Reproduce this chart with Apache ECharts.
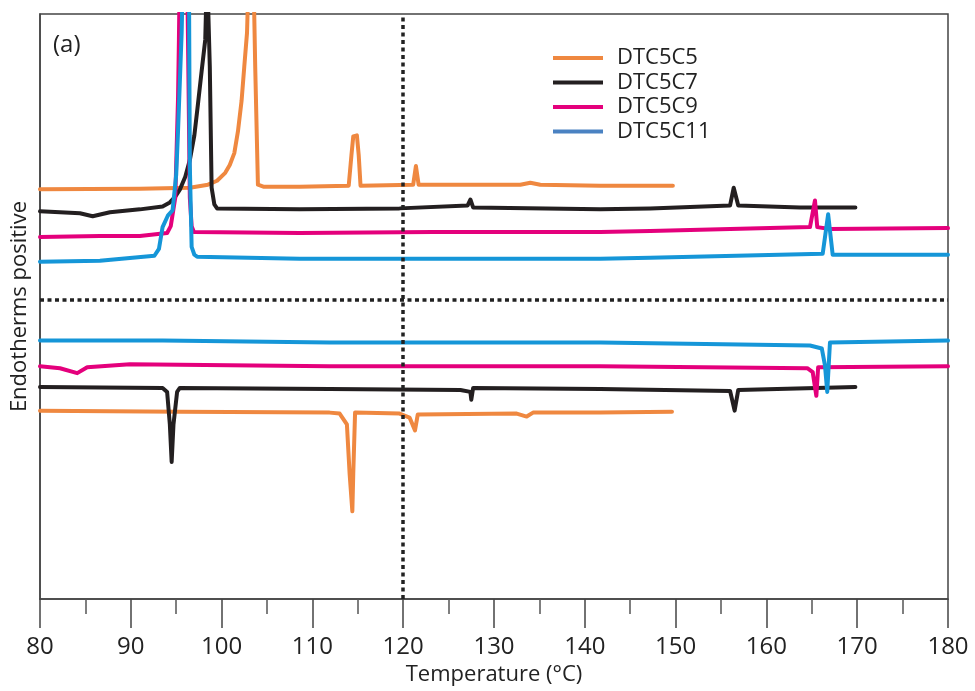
<!DOCTYPE html>
<html>
<head>
<meta charset="utf-8">
<script src="https://cdn.jsdelivr.net/npm/echarts@6/dist/echarts.min.js"></script>
<style>
html,body{margin:0;padding:0;background:#fff;}
#chart{width:975px;height:691px;}
</style>
</head>
<body>
<div id="chart"></div>
<script>
// Temperature (°C) vs heat flow (arbitrary units, endotherms positive)
var seriesNames = ['DTC5C5', 'DTC5C7', 'DTC5C9', 'DTC5C11'];
var xTicks = [80, 90, 100, 110, 120, 130, 140, 150, 160, 170, 180];

// heating traces (upper half)
var heat5 = [[80,415.5],[91.0,416],[96.5,417],[98.5,420],[99.5,424],[100.4,432],[100.9,440],[101.4,452],[101.8,474],[102.2,505],[102.5,540],[102.8,574],[103.0,640],[103.5,640],[103.7,540],[104.0,420],[104.6,418],[108.6,418],[114.0,419],[114.3,450],[114.5,469],[114.9,470],[115.1,450],[115.3,419],[121.1,420],[121.4,439],[121.7,420],[132.9,420],[134.0,422],[135.1,420],[141.7,419],[149.7,419]];
var heat7 = [[80,393],[82.2,392],[84.4,391],[85.8,388],[87.7,392],[91.0,395],[93.5,398],[94.3,402],[94.9,408],[95.4,415],[96.0,428],[96.5,445],[97.0,470],[97.4,502],[97.8,535],[98.2,567],[98.4,640],[98.6,640],[98.7,540],[98.9,417],[99.2,400],[99.5,396],[108.6,395],[119.6,396],[127.1,399],[127.4,405],[127.7,397],[141.7,395],[147.2,396],[156.0,399],[156.4,417],[156.9,399],[163.7,397],[169.8,397]];
var heat9 = [[80,367],[86.6,368],[91.0,368],[94.0,371],[94.4,378],[94.9,407],[95.2,507],[95.3,567],[95.4,640],[96.2,640],[96.3,567],[96.5,407],[96.7,378],[96.95,372],[108.6,371],[123.3,372],[141.7,372],[147.2,373],[164.8,377],[165.35,404],[165.6,377],[167.0,375],[180,376]];
var heat11 = [[80,342],[86.6,343],[92.6,348],[93.1,355],[93.5,377],[94.1,389],[94.6,394],[95.0,430],[95.2,474],[95.6,574],[95.75,640],[96.4,640],[96.5,440],[96.7,357],[97.0,349],[97.3,347],[108.6,345],[141.7,345],[147.2,346],[166.2,350],[166.8,390],[167.3,349],[180,349]];

// cooling traces (lower half)
var cool5 = [[80,191],[95.4,190],[111.9,189],[113.0,188],[113.8,177],[114.1,127],[114.4,89],[114.5,127],[114.7,189],[119.6,188],[120.7,184],[121.3,171],[121.6,187],[132.5,188],[133.6,185],[134.3,189],[141.7,189],[149.6,190]];
var cool7 = [[80,215],[93.5,214],[94.0,210],[94.3,177],[94.5,139],[94.7,177],[95.1,210],[95.4,214],[111.9,213],[126.3,212],[127.4,210],[127.5,202],[127.7,214],[141.7,213],[156.0,211],[156.5,191],[156.9,212],[169.8,215]];
var cool9 = [[80,236],[82.2,234],[84.1,229],[85.2,235],[89.9,238],[111.9,236],[141.7,236],[164.5,234],[165.1,230],[165.5,206],[165.7,235],[180,236]];
var cool11 = [[80,262],[93.5,262],[111.9,260],[141.7,260],[164.8,257],[166.1,254],[166.45,237],[166.7,210],[167.0,260],[180,262]];

var dividerY = 303;   // horizontal dotted separator
var dividerT = 120;   // vertical dotted marker

var colors = ['#EF8840', '#231F20', '#E4007C', '#1596D8'];
var legendColors = ['#EF8840', '#231F20', '#E4007C', '#4A82C2'];
var FONT = '"Open Sans", "Liberation Sans", sans-serif';

function line(name, data, color) {
  return {
    name: name, type: 'line', data: data, showSymbol: false, symbol: 'none',
    clip: true, animation: false,
    lineStyle: { color: color, width: 4, join: 'round', cap: 'round' },
    itemStyle: { color: color }
  };
}

var series = [
  line(seriesNames[0], heat5, colors[0]),
  line(seriesNames[1], heat7, colors[1]),
  line(seriesNames[2], heat9, colors[2]),
  line(seriesNames[3], heat11, colors[3]),
  line(seriesNames[0], cool5, colors[0]),
  line(seriesNames[1], cool7, colors[1]),
  line(seriesNames[2], cool9, colors[2]),
  line(seriesNames[3], cool11, colors[3])
];
series.push({
  type: 'line', data: [], silent: true, animation: false,
  markLine: {
    silent: true, symbol: 'none', animation: false,
    label: { show: false },
    lineStyle: { color: '#222', width: 3.5, type: [4, 3.5] },
    data: [{ xAxis: dividerT }, { yAxis: dividerY }]
  }
});

var chart = echarts.init(document.getElementById('chart'), null, { renderer: 'canvas' });
chart.setOption({
  backgroundColor: '#fff',
  animation: false,
  title: { text: '(a)', left: 48, top: 28, textStyle: { fontFamily: FONT, fontSize: 24, fontWeight: 'normal', color: '#222' } },
  legend: {
    orient: 'vertical', left: 548, top: 41,
    itemWidth: 50, itemHeight: 4, itemGap: 0.5, icon: 'rect',
    textStyle: { fontFamily: FONT, fontSize: 22, color: '#222', lineHeight: 24, padding: [0, 0, 0, 9] },
    data: seriesNames.map(function (n, i) { return { name: n, icon: 'rect', itemStyle: { color: legendColors[i] } }; })
  },
  grid: { left: 40, right: 27, top: 14, bottom: 84, show: true, borderColor: '#444', borderWidth: 1.5, backgroundColor: 'transparent' },
  xAxis: {
    type: 'value', min: xTicks[0], max: xTicks[xTicks.length - 1], interval: 10,
    name: 'Temperature (°C)', nameLocation: 'middle', nameGap: 59,
    nameTextStyle: { fontFamily: FONT, fontSize: 22, color: '#222' },
    axisLine: { show: true, lineStyle: { color: '#444', width: 1.5 } },
    axisTick: { show: true, inside: false, length: 29, lineStyle: { color: '#444', width: 1.5 } },
    minorTick: { show: true, splitNumber: 2, length: 15, lineStyle: { color: '#555', width: 1.5 } },
    axisLabel: { fontFamily: FONT, fontSize: 24, color: '#222', margin: 36 },
    splitLine: { show: false }
  },
  yAxis: {
    type: 'value', min: 0, max: 593,
    name: 'Endotherms positive', nameLocation: 'middle', nameGap: 9, nameRotate: 90,
    nameTextStyle: { fontFamily: FONT, fontSize: 22, color: '#222' },
    axisLine: { show: true, lineStyle: { color: '#444', width: 1.5 } },
    axisTick: { show: false }, axisLabel: { show: false }, splitLine: { show: false }
  },
  series: series
});
</script>
</body>
</html>
